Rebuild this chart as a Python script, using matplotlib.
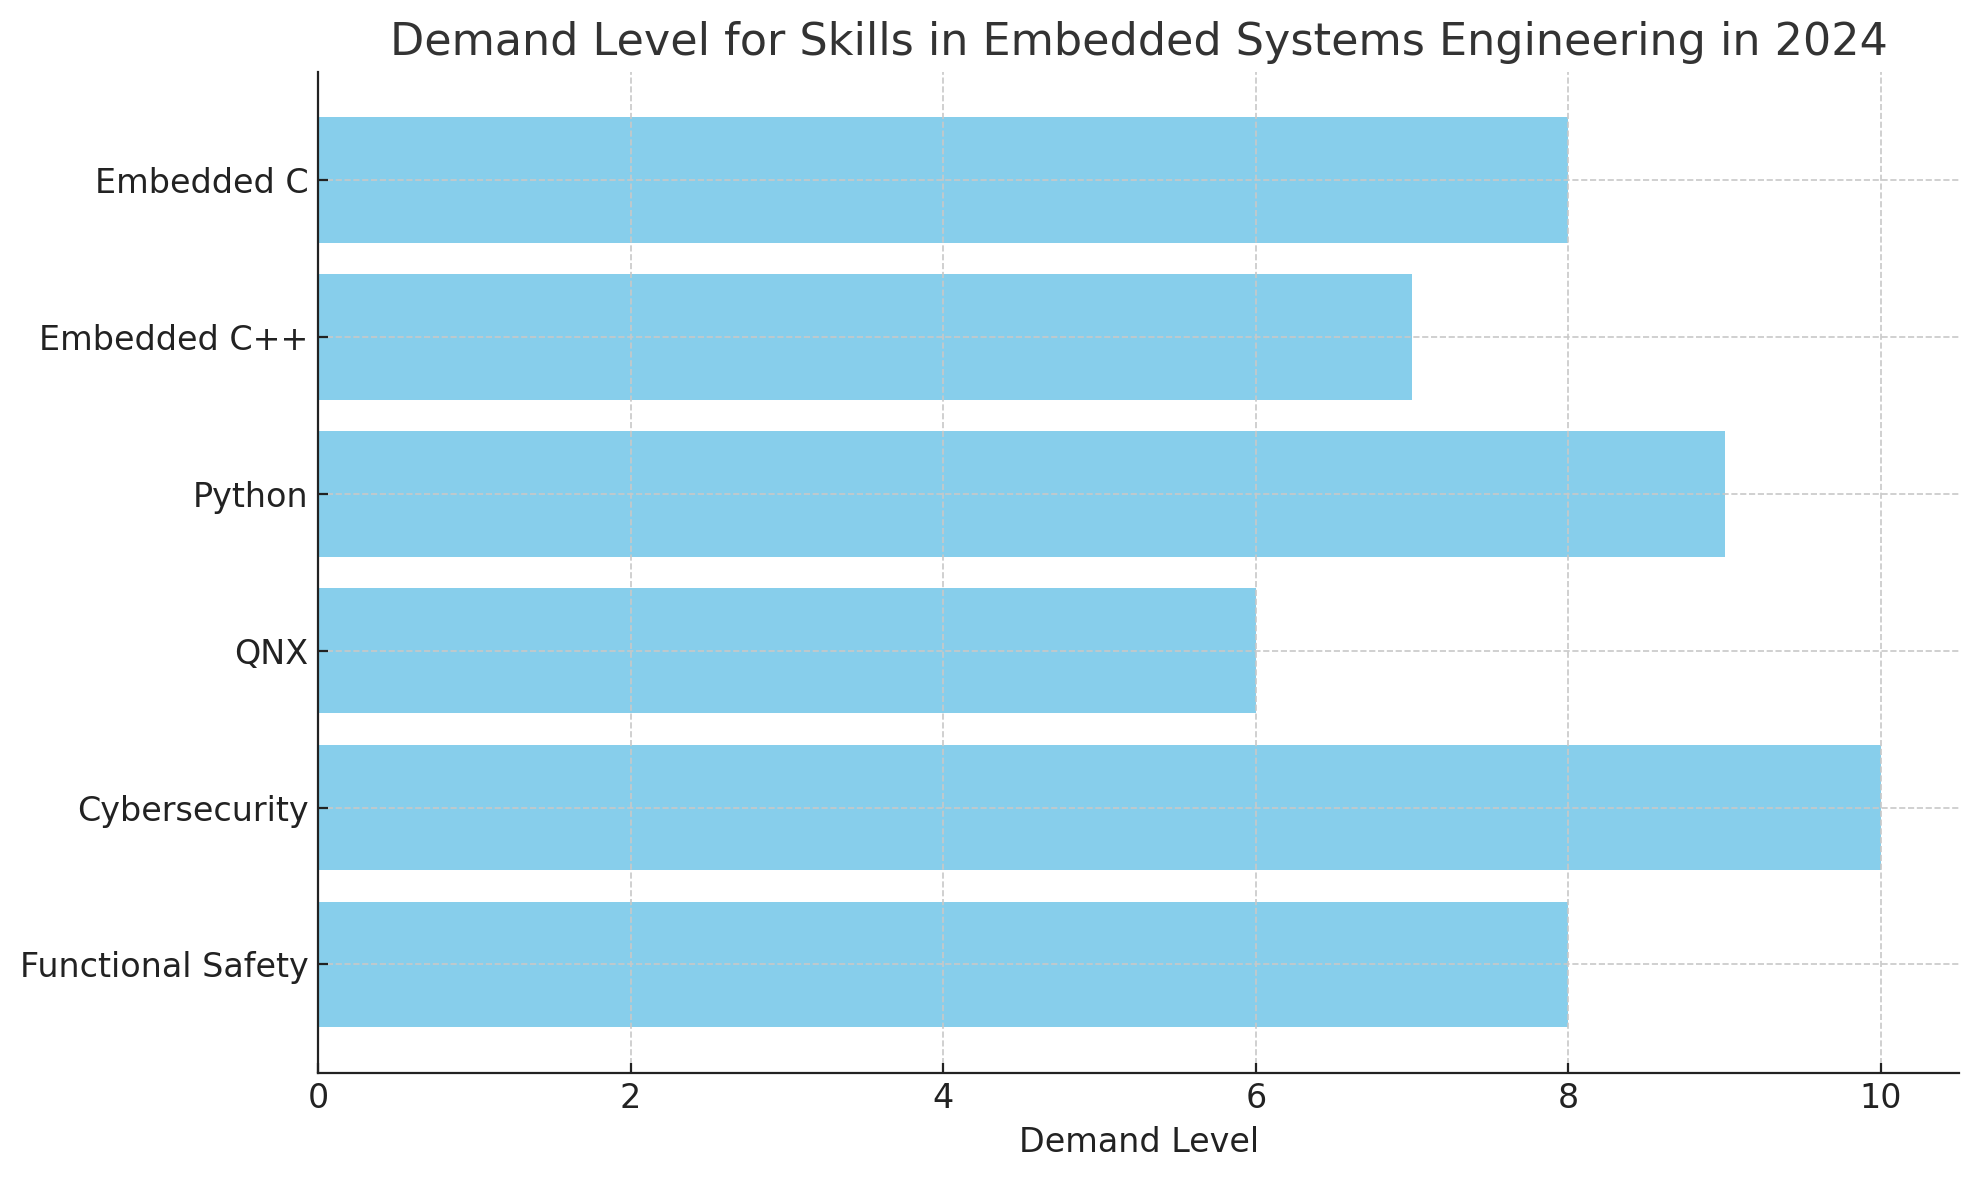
import matplotlib
matplotlib.use("Agg")
import matplotlib.pyplot as plt

skills = ["Embedded C", "Embedded C++", "Python", "QNX", "Cybersecurity", "Functional Safety"]
demand = [8, 7, 9, 6, 10, 8]

fig = plt.figure(figsize=(1979/200, 1180/200), dpi=200)
ax = fig.add_axes([0.1607, 0.091, 0.990 - 0.1607, 0.939 - 0.091])

ax.barh(skills, demand, color="skyblue", height=0.8)
ax.invert_yaxis()
ax.set_xlim(0, 10.5)
ax.set_title("Demand Level for Skills in Embedded Systems Engineering in 2024",
             fontsize=16, color="#333333")
ax.set_xlabel("Demand Level", fontsize=12, color="#222222")
ax.tick_params(labelsize=12, colors="#222222", direction="in")
ax.grid(True, linestyle="--", color="#c8c8c8", linewidth=0.6)
for s in ("top", "right"):
    ax.spines[s].set_visible(False)
for s in ("left", "bottom"):
    ax.spines[s].set_color("#222222")

fig.savefig("out.png", dpi=200)
